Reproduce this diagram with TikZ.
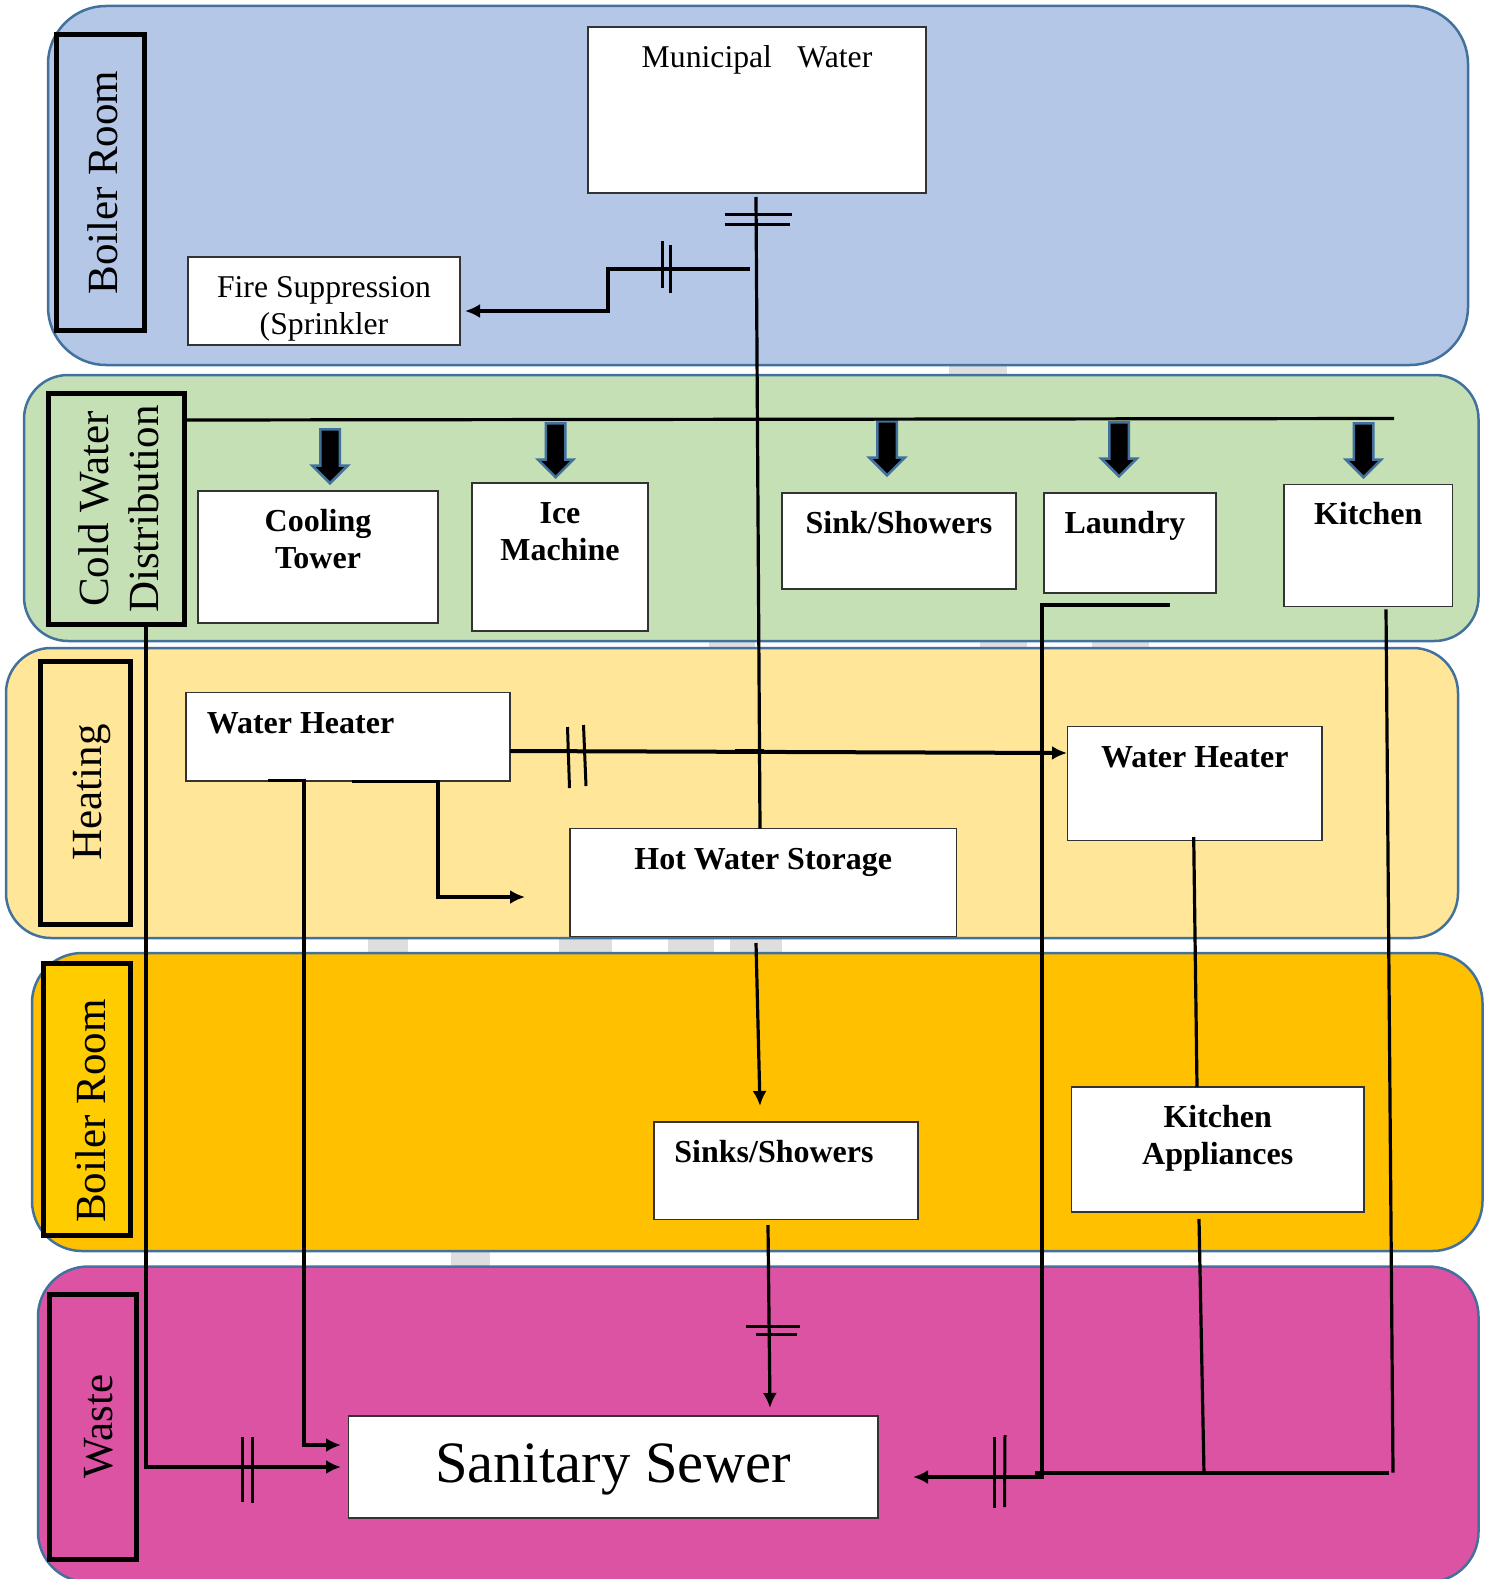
\documentclass[tikz,border=0pt]{standalone}
\usepackage{fontspec}
\setmainfont{Liberation Serif}
\usepackage{tikz}
\usetikzlibrary{arrows.meta}
\usetikzlibrary{shapes.arrows}
\tikzset{>={Latex[length=15pt,width=14pt]}}
\definecolor{bandline}{HTML}{41719C}
\definecolor{bandblue}{HTML}{B4C7E7}
\definecolor{bandgreen}{HTML}{C5E0B4}
\definecolor{bandyellow}{HTML}{FFE699}
\definecolor{bandorange}{HTML}{FFC000}
\definecolor{bandpink}{HTML}{DC53A4}
\definecolor{tagyellow}{HTML}{FFCC00}
\tikzset{
    band/.style={draw=bandline,line width=2.5pt},
    wmark/.style={fill=black!13},
    roomtag/.style n args={4}{draw=black,line width=5pt,rotate=90,outer sep=0pt,inner sep=0pt,
        minimum width=#1pt,minimum height=#2pt,text height=#3pt,text depth=#4pt,
        align=center,font=\fontsize{43}{50}\selectfont},
    unit/.style n args={3}{draw=black!80,fill=white,line width=1.3pt,anchor=north west,
        outer sep=0pt,inner sep=0pt,align=center,minimum width=#1pt,
        text height=#2pt,text depth=#3pt,font=\fontsize{32}{37}\selectfont\bfseries},
    plain/.style={font=\fontsize{31.7}{37}\selectfont},
    pipe/.style={draw=black,line width=3.2pt},
    heavy/.style={draw=black,line width=4pt},
    tickmark/.style={draw=black,line width=3pt},
    feed/.style={draw=bandline,fill=black,line width=2.5pt,shape=single arrow,rotate=-90,anchor=west,
        inner sep=0pt,minimum height=54pt,text height=17pt,text depth=0pt,
        single arrow head extend=8pt,single arrow tip angle=90},
}
\begin{document}
\begin{tikzpicture}[x=1pt,y=-1pt]
    \useasboundingbox (0,0) rectangle (1486,1579);
    %watermark pieces in the gaps
    \foreach \xa/\xb/\ya/\yb in {949/1007/364/376, 709/755/640/649, 980/1027/640/649, 1092/1149/640/649,
        368/408/937/954, 559/612/937/954, 668/714/937/954, 730/782/937/954, 451/490/1250/1267}
    {\fill[wmark] (\xa,\ya) rectangle (\xb,\yb);}
    %bands
    \draw[band,fill=bandblue,rounded corners=58pt] (48,6) rectangle (1468,365);
    \draw[band,fill=bandgreen,rounded corners=44pt] (24,375) rectangle (1478.5,641);
    \draw[band,fill=bandyellow,rounded corners=45pt] (6,648) rectangle (1458,938);
    \draw[band,fill=bandorange,rounded corners=50pt] (32,953) rectangle (1482.5,1251);
    \draw[band,fill=bandpink,rounded corners=50pt] (38,1266.5) rectangle (1478.5,1582);
    %room tags
    \node[roomtag={295}{88}{44}{9}] (boilertag) at (100,182.5) {Boiler Room};
    \node[roomtag={230.5}{136}{93}{9}] (coldtag) at (116.5,509) {Cold Water\\Distribution};
    \node[roomtag={263}{90}{42}{9}] (heattag) at (85,792.5) {Heating};
    \node[roomtag={272}{87}{46}{9},fill=tagyellow] (boilertagb) at (86.5,1099) {Boiler Room\hspace*{24pt}};
    \node[roomtag={265}{86.5}{47}{9}] (wastetag) at (93,1426.5) {Waste};
    %units
    \node[unit={338}{40.5}{125.5},plain] (muni) at (588,27) {Municipal\hspace{0.8em}Water};
    \node[unit={272}{77}{11},plain] (fire) at (188,257) {Fire Suppression\\(Sprinkler};
    \node[unit={240}{77}{55}] (cooling) at (198,491) {Cooling\\Tower};
    \node[unit={176}{77}{71}] (ice) at (472,483) {Ice\\Machine};
    \node[unit={234}{40}{56}] (sink) at (782,493) {Sink/Showers};
    \node[unit={172}{40}{60}] (laundry) at (1044,493) {Laundry\hspace*{10pt}};
    \node[unit={168.5}{40}{82}] (kitchen) at (1284,484.5) {Kitchen};
    \node[unit={324}{40.5}{48}] (heaterl) at (186,692.5) {Water Heater\hspace*{95pt}};
    \node[unit={386.5}{41}{67}] (hot) at (570,828.5) {Hot Water Storage};
    \node[unit={254.5}{41}{73}] (heaterr) at (1067.5,726.5) {Water Heater};
    \node[unit={264}{40.5}{57}] (sinks) at (654,1122) {Sinks/Showers\hspace*{24pt}};
    \node[unit={292.5}{77.5}{47.5}] (appl) at (1071.5,1087) {Kitchen\\Appliances};
    \node[unit={529.5}{66.5}{35.5},font=\fontsize{58.6}{66}\selectfont] (sewer) at (348.5,1416) {Sanitary Sewer};
    %feeds from the cold line
    \foreach \n/\x/\y in {coolfeed/330/428, icefeed/555.6/422, sinkfeed/887/420, laundryfeed/1119/421, kitchenfeed/1363.5/422}
    {\node[feed] (\n) at (\x,\y) {};}
    %free ends
    \coordinate (muniout) at (756,197);
    \coordinate (hotin) at (760,828.5);
    \coordinate (coldl) at (186,420);
    \coordinate (coldr) at (1394,418.5);
    \coordinate (firefrom) at (750,269);
    \coordinate (fireto) at (465,311);
    \coordinate (coldout) at (146,626);
    \coordinate (sewerina) at (341,1467);
    \coordinate (whout) at (268,780.5);
    \coordinate (sewerinb) at (341,1445);
    \coordinate (whoutb) at (352,781.5);
    \coordinate (whto) at (525,897);
    \coordinate (heatfrom) at (510,751);
    \coordinate (heatto) at (1067,753);
    \coordinate (stuba) at (735,750.5);
    \coordinate (stubb) at (764,750.5);
    \coordinate (hotout) at (756,943);
    \coordinate (sinksin) at (760,1106);
    \coordinate (sinksout) at (768,1225);
    \coordinate (sewerinc) at (770,1408);
    \coordinate (heaterout) at (1193.7,837);
    \coordinate (applin) at (1197,1087);
    \coordinate (applout) at (1199,1219);
    \coordinate (applend) at (1204,1474);
    \coordinate (laundryout) at (1170,605);
    \coordinate (seweriner) at (913,1477);
    \coordinate (kitchenout) at (1386,609.4);
    \coordinate (kitchenend) at (1393,1472.5);
    \coordinate (wastel) at (1035,1472.5);
    \coordinate (waster) at (1389,1472.5);
    %pipes
    \draw[pipe] (coldl) -- (coldr);
    \draw[pipe] (muniout) -- (hotin);
    \draw[heavy,->] (firefrom) -- ++(-142,0) |- (fireto);
    \draw[pipe,->] (coldout) |- (sewerina);
    \draw[pipe,->] (whout) -- ++(36,0) |- (sewerinb);
    \draw[pipe,->] (whoutb) -- ++(86,0) |- (whto);
    \draw[heavy,->] (heatfrom) -- (heatto);
    \draw[heavy] (stuba) -- (stubb);
    \draw[pipe,->] (hotout) -- (sinksin);
    \draw[pipe,->] (sinksout) -- (sewerinc);
    \draw[pipe] (heaterout) -- (applin);
    \draw[pipe] (applout) -- (applend);
    \draw[pipe,->] (laundryout) -- ++(-128,0) |- (seweriner);
    \draw[pipe] (kitchenout) -- (kitchenend);
    \draw[heavy] (wastel) -- (waster);
    %break marks
    \foreach \i/\xa/\ya/\xb/\yb in {1/724.5/214/792/214, 2/724.5/224.7/790/224.7, 3/662/241/662/288, 4/670/245/670/293,
        5/567.5/727/569.5/788, 6/583.5/725/586/786, 7/746/1326/800/1326, 8/756/1334/797/1334,
        9/242/1437/242/1502, 10/252/1437/252/1503, 11/994/1437/994/1508, 12/1005/1435/1004.5/1507}
    {\coordinate (tick\i a) at (\xa,\ya);
    \coordinate (tick\i b) at (\xb,\yb);
    \draw[tickmark] (tick\i a) -- (tick\i b);}
\end{tikzpicture}
\end{document}
